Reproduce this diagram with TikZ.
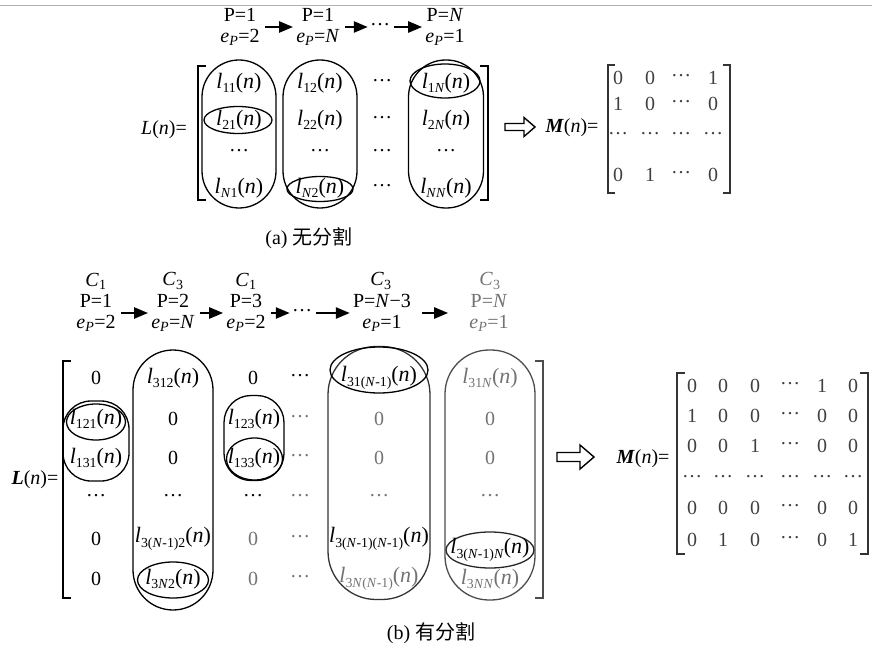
\documentclass[tikz,border=0pt]{standalone}
\usepackage{fontspec}
\setmainfont{Liberation Serif}
\newfontfamily\cjk{Noto Sans CJK SC}
\usepackage{tikz}
\usetikzlibrary{arrows.meta}
\usetikzlibrary{backgrounds}
\usetikzlibrary{shapes,shapes.geometric}
\pgfdeclarelayer{edgelayer}
\pgfdeclarelayer{nodelayer}
\pgfsetlayers{background,edgelayer,nodelayer,main}
\newcommand{\sbs}[1]{\raisebox{-0.2em}{\fontsize{13.8}{14}\selectfont #1}}
\newcommand{\lent}[1]{{\fontsize{22}{22}\selectfont\textit{l}\sbs{#1}(\textit{n})}}
\newcommand{\Nv}{\textit{N}}
\newcommand{\eP}{\textit{e}\textsubscript{\textit{P}}}
\newcommand{\dts}{\raisebox{0.28em}{…}}
\tikzstyle{none}=[inner sep=0mm]
\tikzstyle{txt}=[inner sep=0mm, font=\fontsize{20}{21}\selectfont]
\tikzstyle{lbl}=[txt, align=center, inner sep=1pt]
\tikzstyle{gtxt}=[txt, text=black!55]
\tikzstyle{mtxt}=[txt, text=black!75]
\tikzstyle{captxt}=[inner sep=0mm, font=\fontsize{20}{22}\selectfont]
\tikzstyle{ring}=[draw, shape=ellipse, line width=1.3pt, inner sep=0pt]
\tikzstyle{column}=[draw, shape=rectangle, line width=1.3pt, inner sep=0pt]
\tikzstyle{flow}=[-{Triangle[length=14pt,width=11pt]}, line width=2.4pt, shorten <=4pt, shorten >=2pt]
\tikzstyle{brace}=[line width=1.6pt]
\tikzstyle{imply}=[draw, line width=1.4pt, fill=white, line join=miter]

\begin{document}
\begin{tikzpicture}[x=1pt, y=-1pt]
	\useasboundingbox (0,0) rectangle (872,655);
	\draw [black!30, line width=0.8pt] (0,5) -- (872,5);
	\begin{pgfonlayer}{nodelayer}
		% (a) without splitting
		\node [style=lbl] (0) at (240, 27) {P=1\\\eP=2};
		\node [style=lbl] (1) at (318, 27) {P=1\\\eP=\Nv};
		\node [style=txt] (2) at (380, 27) {\dts};
		\node [style=lbl] (3) at (445, 27) {P=\Nv\\\eP=1};
		\node [style=txt] (4) at (164, 130) {\textit{L}(\textit{n})=};
		\node [style=column, minimum width=74pt, minimum height=148pt, rounded corners=37pt] (5) at (239, 134) {};
		\node [style=column, minimum width=74pt, minimum height=148pt, rounded corners=37pt] (6) at (320, 134) {};
		\node [style=column, minimum width=75pt, minimum height=148pt, rounded corners=37pt] (7) at (446, 134) {};
		\node [style=ring, minimum width=68pt, minimum height=27pt] (8) at (238, 120) {};
		\node [style=ring, minimum width=66pt, minimum height=25pt] (9) at (320, 189) {};
		\node [style=ring, minimum width=70pt, minimum height=34pt] (10) at (445, 81) {};
		\node [style=txt] (11) at (239, 83) {\lent{11}};
		\node [style=txt] (12) at (320, 83) {\lent{12}};
		\node [style=txt] (13) at (382, 83) {\dts};
		\node [style=txt] (14) at (446, 83) {\lent{1\Nv}};
		\node [style=txt] (15) at (239, 120) {\lent{21}};
		\node [style=txt] (16) at (320, 120) {\lent{22}};
		\node [style=txt] (17) at (382, 120) {\dts};
		\node [style=txt] (18) at (446, 120) {\lent{2\Nv}};
		\node [style=txt] (19) at (239, 153) {\dts};
		\node [style=txt] (20) at (320, 153) {\dts};
		\node [style=txt] (21) at (382, 153) {\dts};
		\node [style=txt] (22) at (446, 153) {\dts};
		\node [style=txt] (23) at (239, 188) {\lent{\Nv1}};
		\node [style=txt] (24) at (320, 188) {\lent{\Nv2}};
		\node [style=txt] (25) at (382, 188) {\dts};
		\node [style=txt] (26) at (446, 188) {\lent{\Nv\Nv}};
		\coordinate (27) at (505, 127);
		\node [style=txt] (28) at (572, 128) {\textbf{\textit{M}}(\textit{n})=};
		\node [style=mtxt] (29) at (618, 78) {0};
		\node [style=mtxt] (30) at (650, 78) {0};
		\node [style=mtxt] (31) at (681, 78) {\dts};
		\node [style=mtxt] (32) at (713, 78) {1};
		\node [style=mtxt] (33) at (618, 104) {1};
		\node [style=mtxt] (34) at (650, 104) {0};
		\node [style=mtxt] (35) at (681, 104) {\dts};
		\node [style=mtxt] (36) at (713, 104) {0};
		\node [style=mtxt] (37) at (618, 136) {\dts};
		\node [style=mtxt] (38) at (650, 136) {\dts};
		\node [style=mtxt] (39) at (681, 136) {\dts};
		\node [style=mtxt] (40) at (713, 136) {\dts};
		\node [style=mtxt] (41) at (618, 175) {0};
		\node [style=mtxt] (42) at (650, 175) {1};
		\node [style=mtxt] (43) at (681, 175) {\dts};
		\node [style=mtxt] (44) at (713, 175) {0};
		\node [style=captxt] (45) at (309, 238) {(a) {\cjk 无分割}};
		% (b) with splitting
		\node [style=txt] (46) at (96, 281) {\textit{C}\textsubscript{1}};
		\node [style=txt] (47) at (173, 281) {\textit{C}\textsubscript{3}};
		\node [style=txt] (48) at (246, 281) {\textit{C}\textsubscript{1}};
		\node [style=txt] (49) at (381, 281) {\textit{C}\textsubscript{3}};
		\node [style=gtxt] (50) at (490, 281) {\textit{C}\textsubscript{3}};
		\node [style=lbl] (51) at (96, 313) {P=1\\\eP=2};
		\node [style=lbl] (52) at (173, 313) {P=2\\\eP=\Nv};
		\node [style=lbl] (53) at (246, 313) {P=3\\\eP=2};
		\node [style=lbl] (54) at (382, 313) {P=\Nv−3\\\eP=1};
		\node [style=lbl, text=black!55] (55) at (489, 313) {P=\Nv\\\eP=1};
		\node [style=txt] (56) at (302, 313) {\dts};
		\node [style=txt] (57) at (35, 480) {\textbf{\textit{L}}(\textit{n})=};
		\node [style=column, minimum width=66pt, minimum height=80pt, rounded corners=28pt] (58) at (96, 441) {};
		\node [style=column, minimum width=80pt, minimum height=260pt, rounded corners=40pt] (59) at (173, 480) {};
		\node [style=column, minimum width=60pt, minimum height=85pt, rounded corners=27pt] (60) at (254, 438) {};
		\node [style=column, draw=black!80, minimum width=102pt, minimum height=253pt, rounded corners=48pt] (61) at (379, 473) {};
		\node [style=column, draw=black!70, minimum width=90pt, minimum height=250pt, rounded corners=44pt] (62) at (490, 475) {};
		\node [style=ring, minimum width=59pt, minimum height=36pt] (63) at (96, 422) {};
		\node [style=ring, minimum width=71pt, minimum height=36pt] (64) at (173, 580) {};
		\node [style=ring, minimum width=56pt, minimum height=42pt] (65) at (254.5, 459) {};
		\node [style=ring, minimum width=98pt, minimum height=46pt] (66) at (379, 370) {};
		\node [style=ring, draw=black!85, minimum width=88pt, minimum height=36pt] (67) at (490, 550) {};
		\node [style=txt] (68) at (96, 378) {0};
		\node [style=txt] (69) at (173, 378) {\lent{312}};
		\node [style=txt] (70) at (253, 378) {0};
		\node [style=txt] (71) at (300, 378) {\dts};
		\node [style=txt] (72) at (379, 378) {\lent{31(\Nv-1)}};
		\node [style=gtxt] (73) at (490, 378) {\lent{31\Nv}};
		\node [style=txt] (74) at (96, 419) {\lent{121}};
		\node [style=txt] (75) at (173, 419) {0};
		\node [style=txt] (76) at (254, 419) {\lent{123}};
		\node [style=gtxt] (77) at (300, 419) {\dts};
		\node [style=gtxt] (78) at (379, 419) {0};
		\node [style=gtxt] (79) at (490, 419) {0};
		\node [style=txt] (80) at (96, 458) {\lent{131}};
		\node [style=txt] (81) at (173, 458) {0};
		\node [style=txt] (82) at (254, 458) {\lent{133}};
		\node [style=gtxt] (83) at (300, 458) {\dts};
		\node [style=gtxt] (84) at (379, 458) {0};
		\node [style=gtxt] (85) at (490, 458) {0};
		\node [style=txt] (86) at (96, 498) {\dts};
		\node [style=txt] (87) at (173, 498) {\dts};
		\node [style=txt] (88) at (253, 498) {\dts};
		\node [style=gtxt] (89) at (300, 498) {\dts};
		\node [style=gtxt] (90) at (379, 498) {\dts};
		\node [style=gtxt] (91) at (490, 498) {\dts};
		\node [style=txt] (92) at (96, 539) {0};
		\node [style=txt] (93) at (173, 539) {\lent{3(\Nv-1)2}};
		\node [style=gtxt] (94) at (253, 539) {0};
		\node [style=gtxt] (95) at (300, 539) {\dts};
		\node [style=txt] (96) at (379, 539) {\lent{3(\Nv-1)(\Nv-1)}};
		\node [style=txt] (97) at (490, 550) {\lent{3(\Nv-1)\Nv}};
		\node [style=txt] (98) at (96, 579) {0};
		\node [style=txt] (99) at (173, 579) {\lent{3\Nv2}};
		\node [style=gtxt] (100) at (253, 579) {0};
		\node [style=gtxt] (101) at (300, 579) {\dts};
		\node [style=gtxt] (102) at (379, 579) {\lent{3\Nv(\Nv-1)}};
		\node [style=gtxt] (103) at (490, 579) {\lent{3\Nv\Nv}};
		\coordinate (104) at (557, 457);
		\node [style=txt] (105) at (643, 459) {\textbf{\textit{M}}(\textit{n})=};
		\node [style=mtxt] (106) at (692, 386) {0};
		\node [style=mtxt] (107) at (723, 386) {0};
		\node [style=mtxt] (108) at (755, 386) {0};
		\node [style=mtxt] (109) at (790, 386) {\dts};
		\node [style=mtxt] (110) at (822, 386) {1};
		\node [style=mtxt] (111) at (853, 386) {0};
		\node [style=mtxt] (112) at (692, 416) {1};
		\node [style=mtxt] (113) at (723, 416) {0};
		\node [style=mtxt] (114) at (755, 416) {0};
		\node [style=mtxt] (115) at (790, 416) {\dts};
		\node [style=mtxt] (116) at (822, 416) {0};
		\node [style=mtxt] (117) at (853, 416) {0};
		\node [style=mtxt] (118) at (692, 446) {0};
		\node [style=mtxt] (119) at (723, 446) {0};
		\node [style=mtxt] (120) at (755, 446) {1};
		\node [style=mtxt] (121) at (790, 446) {\dts};
		\node [style=mtxt] (122) at (822, 446) {0};
		\node [style=mtxt] (123) at (853, 446) {0};
		\node [style=mtxt] (124) at (692, 479) {\dts};
		\node [style=mtxt] (125) at (723, 479) {\dts};
		\node [style=mtxt] (126) at (755, 479) {\dts};
		\node [style=mtxt] (127) at (790, 479) {\dts};
		\node [style=mtxt] (128) at (822, 479) {\dts};
		\node [style=mtxt] (129) at (853, 479) {\dts};
		\node [style=mtxt] (130) at (692, 508) {0};
		\node [style=mtxt] (131) at (723, 508) {0};
		\node [style=mtxt] (132) at (755, 508) {0};
		\node [style=mtxt] (133) at (790, 508) {\dts};
		\node [style=mtxt] (134) at (822, 508) {0};
		\node [style=mtxt] (135) at (853, 508) {0};
		\node [style=mtxt] (136) at (692, 540) {0};
		\node [style=mtxt] (137) at (723, 540) {1};
		\node [style=mtxt] (138) at (755, 540) {0};
		\node [style=mtxt] (139) at (790, 540) {\dts};
		\node [style=mtxt] (140) at (822, 540) {0};
		\node [style=mtxt] (141) at (853, 540) {1};
		\node [style=captxt] (142) at (431, 633) {(b) {\cjk 有分割}};
	\end{pgfonlayer}
	\begin{pgfonlayer}{edgelayer}
		\draw [style=flow] (0) to (1);
		\draw [style=flow] (1) to (2);
		\draw [style=flow] (2) to (3);
		\draw [style=brace] (206, 66) -- (198, 66) -- (198, 200) -- (206, 200);
		\draw [style=brace] (480, 66) -- (488, 66) -- (488, 200) -- (480, 200);
		\draw [style=imply] (27) ++(0, -3.5) -- ++(19, 0) -- ++(0, -6) -- ++(11, 9.5) -- ++(-11, 9.5) -- ++(0, -6) -- ++(-19, 0) -- cycle;
		\draw [style=brace, black!80] (615, 65) -- (608, 65) -- (608, 193) -- (615, 193);
		\draw [style=brace, black!80] (723, 65) -- (730, 65) -- (730, 193) -- (723, 193);
		\draw [style=flow] (51) to (52);
		\draw [style=flow] (52) to (53);
		\draw [style=flow] (53) to (56);
		\draw [style=flow] (56) to (54);
		\draw [style=flow, shorten <=10pt, shorten >=20pt] (54) to (55);
		\draw [style=brace] (71, 361) -- (63, 361) -- (63, 598) -- (71, 598);
		\draw [style=brace, black!70] (535, 361) -- (543, 361) -- (543, 598) -- (535, 598);
		\draw [style=imply] (104) ++(0, -4.5) -- ++(23, 0) -- ++(0, -7.5) -- ++(14, 12) -- ++(-14, 12) -- ++(0, -7.5) -- ++(-23, 0) -- cycle;
		\draw [style=brace, black!80] (685, 373) -- (677, 373) -- (677, 554) -- (685, 554);
		\draw [style=brace, black!80] (860, 373) -- (868, 373) -- (868, 554) -- (860, 554);
	\end{pgfonlayer}
\end{tikzpicture}
\end{document}
